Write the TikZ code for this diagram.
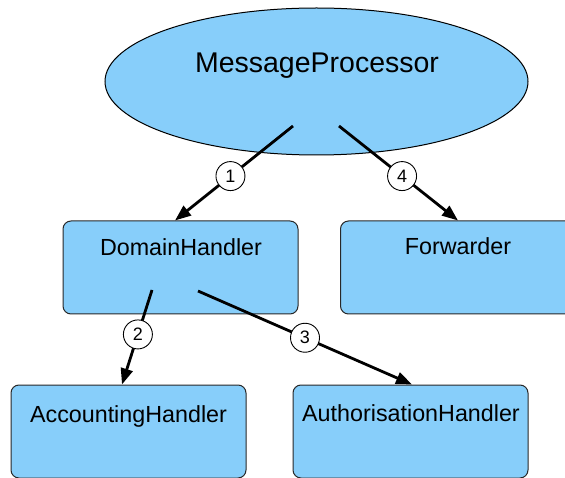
\documentclass[tikz,border=0pt]{standalone}
\usepackage{fontspec}
\setmainfont{Liberation Sans}
\usetikzlibrary{shapes.geometric,arrows.meta,calc}
\definecolor{skyfill}{RGB}{135,206,250}
\definecolor{edgegray}{RGB}{40,40,40}
\begin{document}
\begin{tikzpicture}[x=1pt,y=1pt,
  bubble/.style={ellipse,draw=black,line width=1pt,fill=skyfill,
    minimum width=423pt,minimum height=147pt,inner sep=0pt},
  handler/.style={rectangle,rounded corners=8pt,draw=edgegray,line width=1pt,
    fill=skyfill,minimum width=235pt,minimum height=93pt,inner sep=0pt},
  bigtext/.style={anchor=base,inner sep=0pt,font=\fontsize{28.5}{32}\selectfont},
  boxtext/.style={anchor=base,inner sep=0pt,font=\fontsize{23.3}{26}\selectfont},
  flow/.style={line width=2.8pt,-{Triangle[length=16pt,width=12pt]}},
  stepnum/.style={circle,draw=black,line width=0.9pt,fill=white,
    minimum size=29pt,inner sep=0pt,font=\fontsize{18}{20}\selectfont}]
  \useasboundingbox (0,0) rectangle (565,477);

  % processor at the top
  \node[bubble] (mp) at (316.5,395.5) {};
  \node[bigtext] (mpt) at (317,404) {MessageProcessor};

  % handler boxes
  \node[handler] (dh)  at (180.5,209.5) {};
  \node[handler] (fw)  at (458,209.5) {};
  \node[handler] (ah)  at (128.5,45.5) {};
  \node[handler] (auh) at (410.5,45.5) {};
  \node[boxtext] (dht)  at (181,221) {DomainHandler};
  \node[boxtext] (fwt)  at (458,222) {Forwarder};
  \node[boxtext] (aht)  at (128.5,55) {AccountingHandler};
  \node[boxtext] (auht) at (411,55.3) {AuthorisationHandler};

  % where the calls leave their caller
  \coordinate (s1) at (293,351);
  \coordinate (s4) at (339,351);
  \coordinate (s2) at (152,187);
  \coordinate (s3) at (198,186);

  % numbered calls
  \draw[flow] (s1) -- ([xshift=-5.5pt]dh.north)
    node[stepnum,pos=0.53] (c1) {1};
  \draw[flow] (s4) -- (fw.north)
    node[stepnum,pos=0.53] (c4) {4};
  \draw[flow] (s2) -- ([xshift=-6.5pt]ah.north)
    node[stepnum,pos=0.47] (c2) {2};
  \draw[flow] (s3) -- ([xshift=1.5pt]auh.north)
    node[stepnum,pos=0.5] (c3) {3};
\end{tikzpicture}
\end{document}
